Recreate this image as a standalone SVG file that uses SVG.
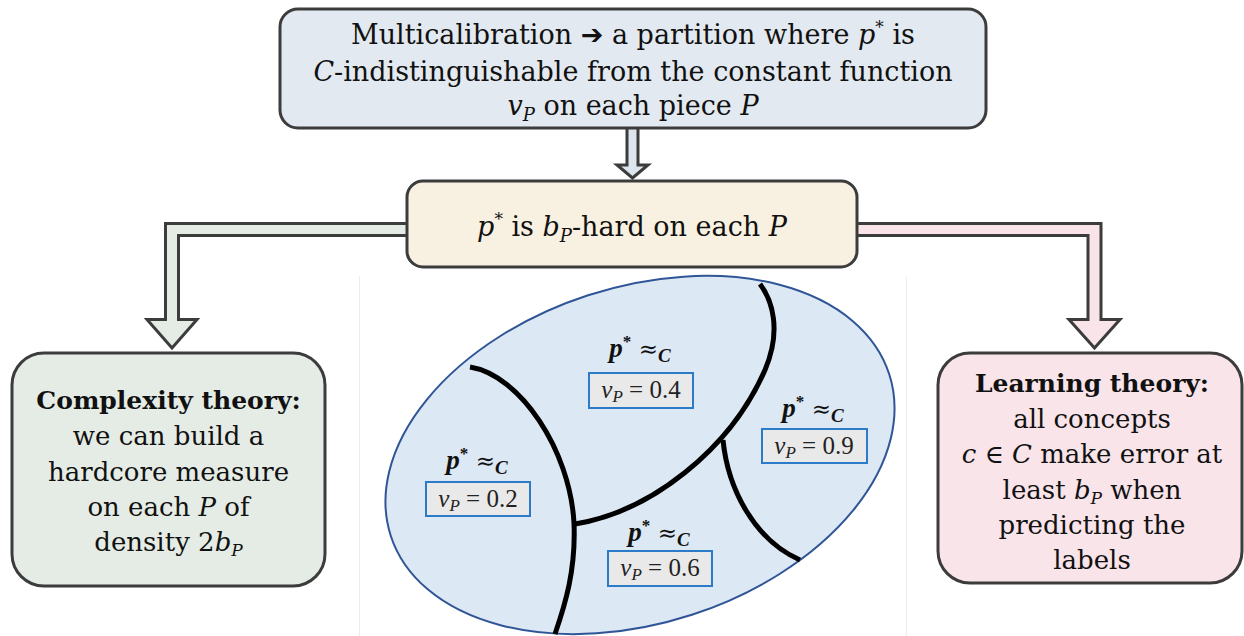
<svg xmlns="http://www.w3.org/2000/svg" width="1244" height="636" viewBox="0 0 1244 636">
<style>
.box{stroke:#3c3c3c;stroke-width:3}
.arr{stroke:#3c3c3c;stroke-width:3;stroke-linejoin:miter}
.t{font-family:"DejaVu Serif",serif;font-size:27px;fill:#111;text-anchor:middle}
.s{font-size:26px}
.i{font-style:italic}
.b{font-weight:bold}
.h{font-weight:bold;font-size:25px}
.ar{font-family:"DejaVu Sans",sans-serif;font-weight:bold}
.cut{stroke:#000;stroke-width:5;fill:none}
.vb{fill:#e9e9e9;stroke:#2b7bc9;stroke-width:2}
.m{font-family:"Liberation Serif",serif;font-size:25px;fill:#222;text-anchor:middle}
.pl{font-family:"Liberation Serif",serif;font-size:27px;fill:#111;text-anchor:middle;font-weight:bold}
.ap{font-family:"DejaVu Serif",serif;font-size:23px;font-weight:normal}
</style>
<rect width="1244" height="636" fill="#fff"/>
<g id="connectors">
<path class="arr" fill="#dde5ee" d="M627,126 L627,165 L617,165 L632.5,178 L648,165 L638,165 L638,126 Z"/>
<path class="arr" fill="#e5ece6" d="M410,223.5 L165.5,223.5 L165.5,319.5 L147,319.5 L172,348 L197,319.5 L178.5,319.5 L178.5,235.5 L410,235.5 Z"/>
<path class="arr" fill="#f8e4e9" d="M854,223.5 L1101,223.5 L1101,319.5 L1120,319.5 L1094.5,348 L1069,319.5 L1088,319.5 L1088,235.5 L854,235.5 Z"/>
</g>
<g id="top">
<rect class="box" x="280" y="9" width="706" height="119" rx="18" fill="#e3e9f0"/>
<text class="t" x="633" y="44">Multicalibration <tspan class="ar">➔</tspan> a partition where <tspan class="i">p</tspan><tspan font-size="17" dy="-11">*</tspan><tspan dy="11"> is</tspan></text>
<text class="t" x="633" y="81"><tspan class="i">C</tspan>-indistinguishable from the constant function</text>
<text class="t" x="633" y="115"><tspan class="i">v</tspan><tspan class="i" font-size="18" dy="6">P</tspan><tspan dy="-6"> on each piece </tspan><tspan class="i">P</tspan></text>
</g>
<g id="middle">
<rect class="box" x="407" y="181" width="450" height="86" rx="16" fill="#f8f0e0"/>
<text class="t" x="632" y="236"><tspan class="i">p</tspan><tspan font-size="17" dy="-11">*</tspan><tspan dy="11"> is </tspan><tspan class="i">b</tspan><tspan class="i" font-size="18" dy="6">P</tspan><tspan dy="-6">-hard on each </tspan><tspan class="i">P</tspan></text>
</g>
<g id="complexity">
<rect class="box" x="12" y="353" width="313" height="233" rx="32" fill="#e5ece6"/>
<text class="t h" x="168.5" y="409">Complexity theory:</text>
<text class="t s" x="168.5" y="445">we can build a</text>
<text class="t s" x="168.5" y="481">hardcore measure</text>
<text class="t s" x="168.5" y="516">on each <tspan class="i">P</tspan> of</text>
<text class="t s" x="168.5" y="551">density 2<tspan class="i">b</tspan><tspan class="i" font-size="17" dy="5">P</tspan></text>
</g>
<g id="learning">
<rect class="box" x="938" y="353" width="304" height="230" rx="32" fill="#f8e4e9"/>
<text class="t h" x="1092" y="392">Learning theory:</text>
<text class="t s" x="1092" y="428">all concepts</text>
<text class="t s" x="1092" y="463"><tspan class="i">c</tspan> ∈ <tspan class="i">C</tspan>  make error at</text>
<text class="t s" x="1092" y="499">least <tspan class="i">b</tspan><tspan class="i" font-size="17" dy="5">P</tspan><tspan dy="-5"> when</tspan></text>
<text class="t s" x="1092" y="534">predicting the</text>
<text class="t s" x="1092" y="569">labels</text>
</g>
<g id="partition">
<line x1="359.5" y1="276" x2="359.5" y2="636" stroke="#ededed" stroke-width="1"/>
<line x1="906.5" y1="277" x2="906.5" y2="636" stroke="#ededed" stroke-width="1"/>
<ellipse cx="640" cy="455" rx="262" ry="168" transform="rotate(-18 640 455)" fill="#dce8f4" stroke="#2f5597" stroke-width="2"/>
<path class="cut" d="M470,367 C520,375 570,450 574,523 C576,570 565,605 555,634"/>
<path class="cut" d="M575,524 C650,512 730,450 765,370 C782,330 772,300 760,284"/>
<path class="cut" d="M723,440 C728,490 755,540 800,560"/>
<text class="pl" x="640" y="357"><tspan class="i">p</tspan><tspan font-size="17" dy="-10">*</tspan><tspan dy="10" class="ap"> ≈</tspan><tspan class="i" font-size="19" dy="5">C</tspan></text>
<rect class="vb" x="589" y="373" width="104" height="35"/>
<text class="m" x="641" y="398"><tspan class="i">v</tspan><tspan class="i" font-size="17" dy="4">P</tspan><tspan dy="-4"> = 0.4</tspan></text>
<text class="pl" x="477" y="469"><tspan class="i">p</tspan><tspan font-size="17" dy="-10">*</tspan><tspan dy="10" class="ap"> ≈</tspan><tspan class="i" font-size="19" dy="5">C</tspan></text>
<rect class="vb" x="426" y="482" width="104" height="34"/>
<text class="m" x="478" y="507"><tspan class="i">v</tspan><tspan class="i" font-size="17" dy="4">P</tspan><tspan dy="-4"> = 0.2</tspan></text>
<text class="pl" x="659" y="541"><tspan class="i">p</tspan><tspan font-size="17" dy="-10">*</tspan><tspan dy="10" class="ap"> ≈</tspan><tspan class="i" font-size="19" dy="5">C</tspan></text>
<rect class="vb" x="608" y="551" width="104" height="35"/>
<text class="m" x="660" y="576"><tspan class="i">v</tspan><tspan class="i" font-size="17" dy="4">P</tspan><tspan dy="-4"> = 0.6</tspan></text>
<text class="pl" x="813" y="417"><tspan class="i">p</tspan><tspan font-size="17" dy="-10">*</tspan><tspan dy="10" class="ap"> ≈</tspan><tspan class="i" font-size="19" dy="5">C</tspan></text>
<rect class="vb" x="762" y="429" width="105" height="34"/>
<text class="m" x="814" y="454"><tspan class="i">v</tspan><tspan class="i" font-size="17" dy="4">P</tspan><tspan dy="-4"> = 0.9</tspan></text>
</g>
</svg>
